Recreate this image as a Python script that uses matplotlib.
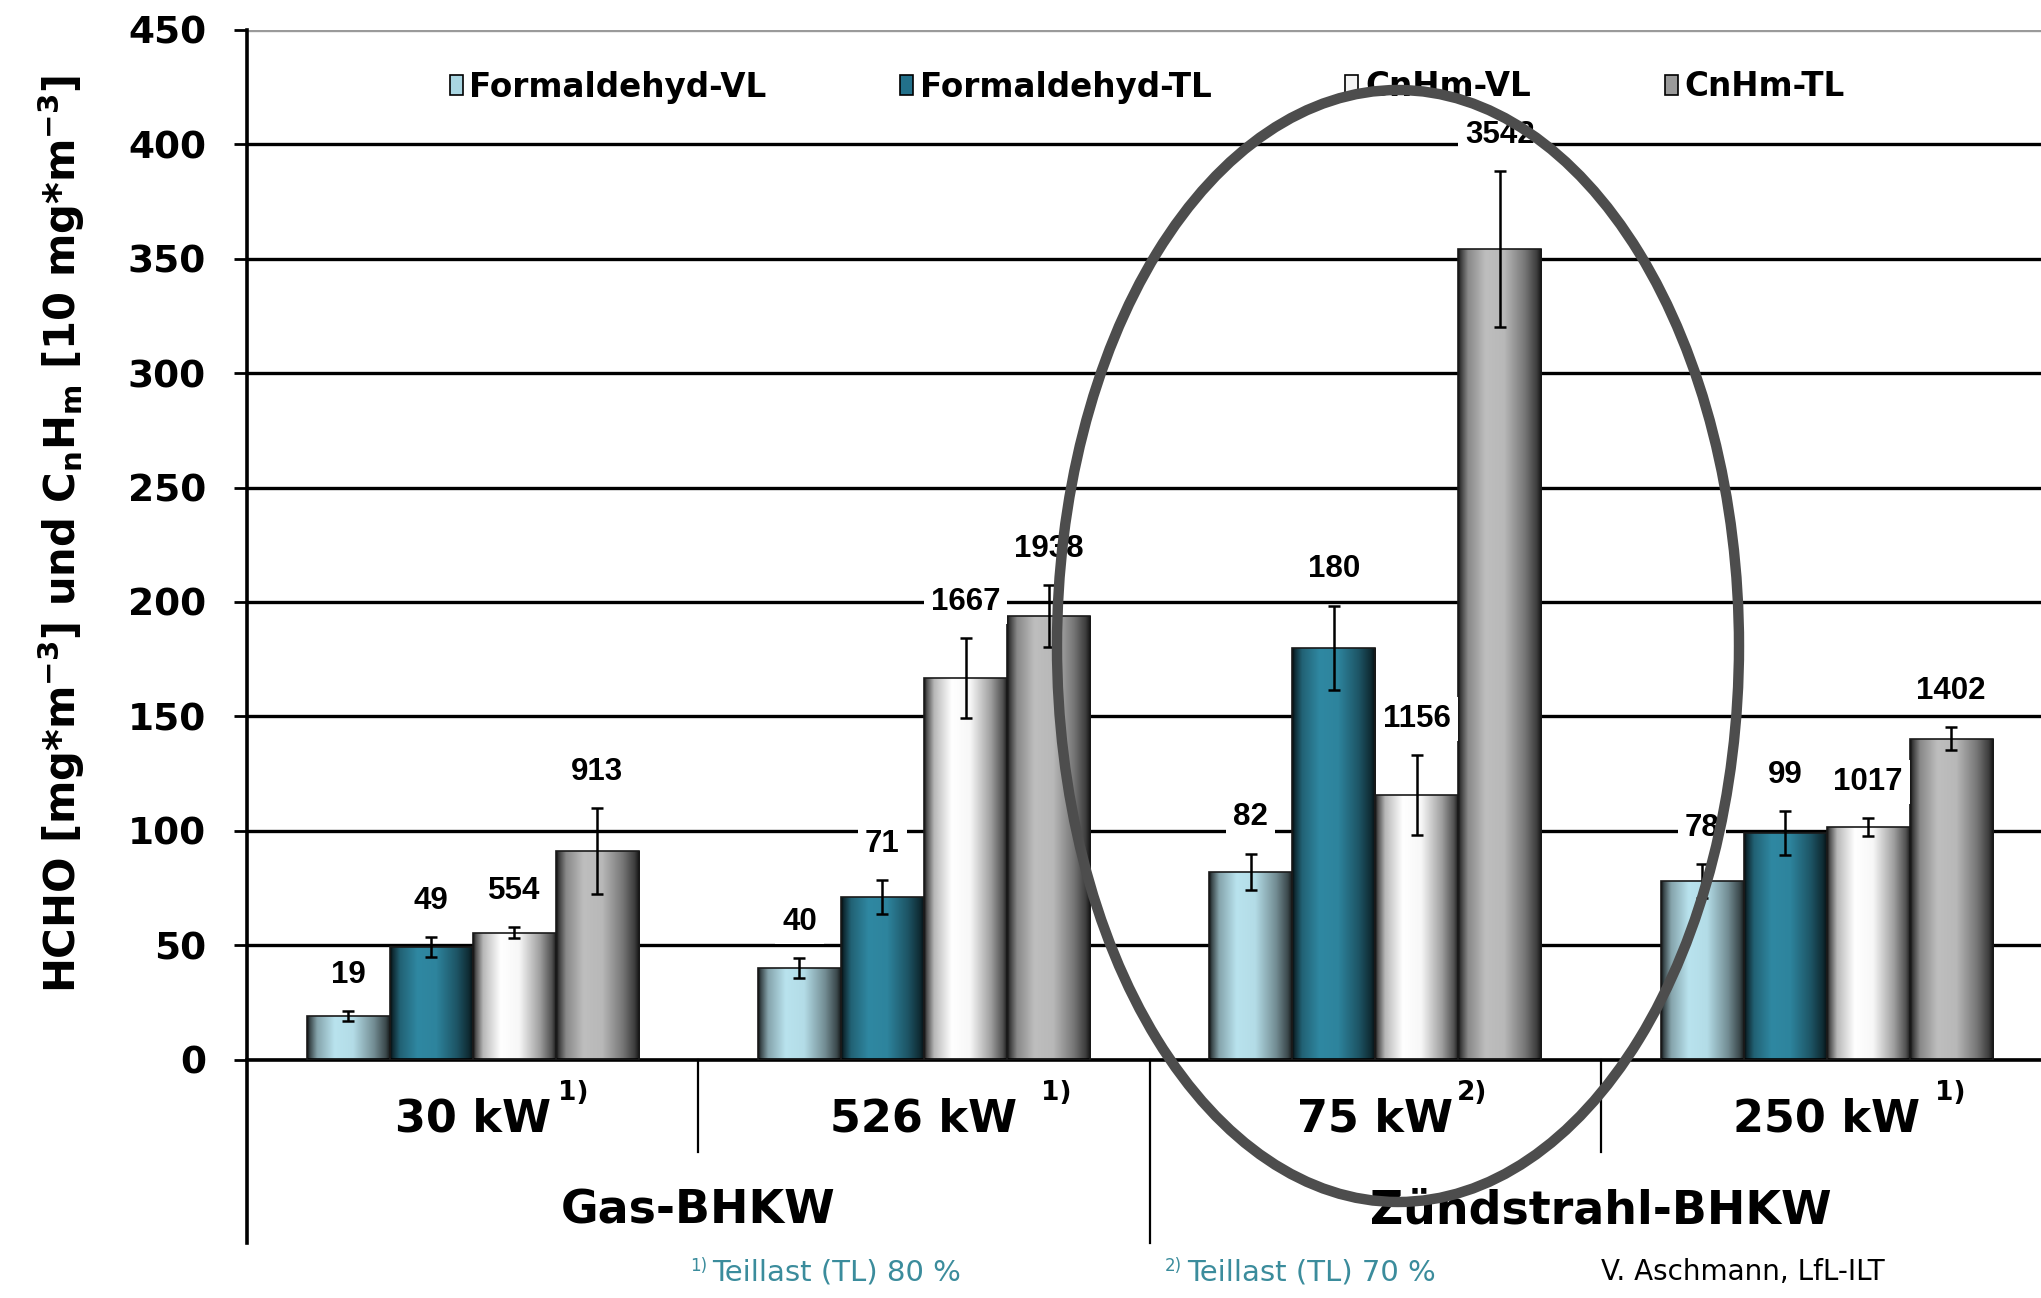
import numpy as np
import matplotlib
matplotlib.use('Agg')
import matplotlib.pyplot as plt
from matplotlib.patches import Ellipse, Patch
from matplotlib.colors import to_rgb
from matplotlib.transforms import blended_transform_factory

# ---------------- data ----------------
plants = ['30 kW', '526 kW', '75 kW', '250 kW']
plant_notes = ['1)', '1)', '2)', '1)']
bhkw_types = ['Gas-BHKW', 'Zündstrahl-BHKW']
series = ['Formaldehyd-VL', 'Formaldehyd-TL', 'CnHm-VL', 'CnHm-TL']
# measured means in mg*m-3
hcho_vl = [19, 40, 82, 78]
hcho_tl = [49, 71, 180, 99]
cnhm_vl = [554, 1667, 1156, 1017]
cnhm_tl = [913, 1938, 3542, 1402]
# error bar half-widths in mg*m-3
hcho_vl_err = [2.3, 4.4, 8.0, 7.4]
hcho_tl_err = [4.4, 7.5, 18.4, 9.5]
cnhm_vl_err = [25, 176, 175, 38]
cnhm_tl_err = [188, 137, 342, 51]
cnhm_scale = 10  # CnHm drawn in units of 10 mg*m-3
yticks = [0, 50, 100, 150, 200, 250, 300, 350, 400, 450]
footnotes = [('1)', 'Teillast (TL) 80 %'), ('2)', 'Teillast (TL) 70 %')]
credit = 'V. Aschmann, LfL-ILT'
ylabel = r'HCHO [mg*m$^{-3}$] und C$_{n}$H$_{m}$ [10 mg*m$^{-3}$]'

# ---------------- style ----------------
plt.rcParams['font.family'] = ['DejaVu Sans']
plt.rcParams['mathtext.fontset'] = 'dejavusans'
plt.rcParams['mathtext.default'] = 'bf'

peak_colors = ['#b9e3ee', '#2f88a2', '#ffffff', '#bebebe']
sup_dx = [0.19, 0.26, 0.18, 0.24]

W, H = 2041, 1298
fig = plt.figure(figsize=(W / 100, H / 100), dpi=100)
ax_left, ax_bottom, ax_top = 247, 1059.5, 30
ax = fig.add_axes([ax_left / W, (H - ax_bottom) / H, (W - ax_left) / W, (ax_bottom - ax_top) / H])


def gradient_row(color, n=256):
    t = np.linspace(0, 1, n)
    tp = [0.0, 0.03, 0.12, 0.33, 0.55, 0.80, 0.94, 1.0]
    fp = [0.05, 0.30, 0.72, 1.0, 0.97, 0.62, 0.32, 0.08]
    m = np.interp(t, tp, fp)
    c = np.array(to_rgb(color))
    return (m[:, None] * c[None, :])[None, :, :]


x = np.arange(len(plants))
w = 0.184
heights = [np.array(hcho_vl, float), np.array(hcho_tl, float),
           np.array(cnhm_vl, float) / cnhm_scale, np.array(cnhm_tl, float) / cnhm_scale]
errs = [np.array(hcho_vl_err), np.array(hcho_tl_err),
        np.array(cnhm_vl_err) / cnhm_scale, np.array(cnhm_tl_err) / cnhm_scale]
label_vals = [hcho_vl, hcho_tl, cnhm_vl, cnhm_tl]

# grid lines
for yt in yticks:
    ax.axhline(yt, color='#9a9a9a' if yt == yticks[-1] else 'black',
               lw=2.4, zorder=1)

for i in range(4):
    xs = x + (i - 1.5) * w
    bars = ax.bar(xs, heights[i], w, facecolor='none', edgecolor='#1a1a1a',
                  linewidth=1.2, zorder=3)
    for b in bars:
        x0, h = b.get_x(), b.get_height()
        im = ax.imshow(gradient_row(peak_colors[i]), extent=(x0, x0 + w, 0, h),
                       aspect='auto', interpolation='bilinear', zorder=2)
        im.set_clip_path(b)
    ax.errorbar(xs, heights[i], yerr=errs[i], fmt='none', ecolor='black',
                elinewidth=1.8, capsize=4, capthick=1.8, zorder=4)
    for xi, hi, ei, v in zip(xs, heights[i], errs[i], label_vals[i]):
        ax.annotate(f'{v}', (xi, hi + ei), xytext=(0, 26), textcoords='offset points',
                    ha='center', va='center', fontsize=22.5, family='Liberation Sans',
                    fontweight='bold',
                    bbox=dict(fc='white', ec='none', pad=5), zorder=5)

ax.set_xlim(-0.5, 3.475)
ax.set_ylim(0, 450)
ax.set_yticks(yticks)
ax.set_xticks([])
ax.tick_params(axis='y', length=9.5, width=2, pad=20, labelsize=27)
for t in ax.get_yticklabels():
    t.set_fontweight('bold')
for s in ['top', 'right', 'left']:
    ax.spines[s].set_visible(False)
ax.spines['bottom'].set_linewidth(2.6)

# left axis line extending into category area
y_bottom = -(1243 - ax_bottom) / (ax_bottom - ax_top)
y_short = -(1152 - ax_bottom) / (ax_bottom - ax_top)
ax.plot([0, 0], [y_bottom, 1], transform=ax.transAxes, clip_on=False,
        color='black', lw=2.6, zorder=6)
bt = blended_transform_factory(ax.transData, ax.transAxes)
for sx, ye in zip([0.5, 1.5, 2.5], [y_short, y_bottom, y_short]):
    ax.plot([sx, sx], [0, ye], transform=bt, clip_on=False, color='black', lw=1.6)

# category labels
y_cat = -(1119.5 - ax_bottom) / (ax_bottom - ax_top)
y_sup = -(1093.5 - ax_bottom) / (ax_bottom - ax_top)
y_grp = -(1210.6 - ax_bottom) / (ax_bottom - ax_top)
for xi, name, note, dx in zip(x, plants, plant_notes, sup_dx):
    ax.text(xi, y_cat, name, transform=bt, ha='center', va='center',
            fontsize=32, fontweight='bold')
    ax.text(xi + dx, y_sup, note, transform=bt, ha='left', va='center',
            fontsize=19, fontweight='bold')
for gx, name in zip([0.5, 2.5], bhkw_types):
    ax.text(gx, y_grp, name, transform=bt, ha='center', va='center',
            fontsize=33, fontweight='bold')

# y label
ax.set_ylabel(ylabel, fontsize=30, fontweight='bold')
ax.yaxis.set_label_coords(-0.089, 0.511)

# legend
handles = [Patch(facecolor=c, edgecolor='black', linewidth=1.2) for c in
           ['#a9d6e2', '#22708a', '#f4f4f4', '#9a9a9a']]
fig.legend(handles, series, loc='center', bbox_to_anchor=(1147 / W, 1 - 87 / H),
           ncol=4, frameon=False, handlelength=0.4, handleheight=0.55,
           handletextpad=0.2, columnspacing=4.1,
           prop=dict(family='DejaVu Sans', weight='bold', size=23.5))

# footnotes
teal = '#3b8c9c'
for (sup, txt), sx, tx in zip(footnotes, [690, 1165], [712, 1187]):
    fig.text(sx / W, 1 - 1266 / H, sup, color=teal, fontsize=12, ha='left', va='center')
    fig.text(tx / W, 1 - 1273 / H, txt, color=teal, fontsize=21, ha='left', va='center')
fig.text(1601 / W, 1 - 1272 / H, credit, color='black', fontsize=20, ha='left', va='center')

# highlight ellipse
fig.patches.append(Ellipse((1398 / W, 1 - 646 / H), 682 / W, 1112 / H,
                           transform=fig.transFigure, fill=False,
                           edgecolor='#4d4d4d', lw=7.5, zorder=10))

fig.savefig('out.png', dpi=100, facecolor='white')
